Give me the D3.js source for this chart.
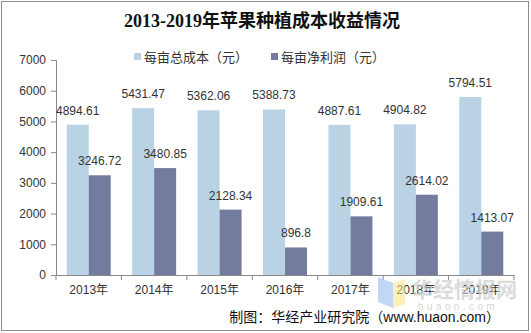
<!DOCTYPE html>
<html>
<head>
<meta charset="utf-8">
<script src="https://cdn.jsdelivr.net/npm/d3@7"></script>
<style>
  body { margin: 0; background: #fff; }
  text { font-family: Arial, "Liberation Sans", "Noto Sans CJK SC", sans-serif; }
</style>
</head>
<body>
<svg width="531" height="333"></svg>
<script>
const years = ['2013年', '2014年', '2015年', '2016年', '2017年', '2018年', '2019年']
const costValues = [4894.61, 5431.47, 5362.06, 5388.73, 4887.61, 4904.82, 5794.51]
const profitValues = [3246.72, 3480.85, 2128.34, 896.8, 1909.61, 2614.02, 1413.07]
const seriesNames = ['每亩总成本（元）', '每亩净利润（元）']
const yTicks = [0, 1000, 2000, 3000, 4000, 5000, 6000, 7000]

const colors = ['#b9d3e5', '#737c9f']

const svg = d3.select('svg')
const width = +svg.attr('width')
const height = +svg.attr('height')

const margin = { top: 60, right: 17, bottom: 58, left: 56 }
const innerWidth = width - margin.left - margin.right
const innerHeight = height - margin.top - margin.bottom

// frame
svg.append('rect')
  .attr('x', 1.5).attr('y', 1.5)
  .attr('width', width - 4).attr('height', height - 4)
  .attr('fill', 'none')
  .attr('stroke', '#8c8c8c')

svg.append('text')
  .attr('x', 262).attr('y', 27)
  .attr('text-anchor', 'middle')
  .style('font-family', '"Liberation Serif", "Noto Sans CJK SC", serif')
  .style('font-size', '18px')
  .style('font-weight', 'bold')
  .attr('fill', '#111')
  .text('2013-2019年苹果种植成本收益情况')

const data = years.map((y, i) => ({ year: y, values: [costValues[i], profitValues[i]] }))

const xBand = d3.scaleBand().domain(years).range([0, innerWidth])
const groupWidth = 44

const xInner = d3.scaleBand()
  .domain([0, 1])
  .range([0, groupWidth])

const yScale = d3.scaleLinear()
  .domain([0, 7000])
  .range([innerHeight, 0])

const g = svg.append('g')
  .attr('transform', `translate(${margin.left}, ${margin.top})`)

const yAxis = g.append('g')
  .call(d3.axisLeft(yScale).tickValues(yTicks).tickFormat(d3.format('d')).tickSize(5).tickPadding(5))
yAxis.selectAll('text').style('font-size', '12px').attr('fill', '#333')
yAxis.selectAll('line, .domain').attr('stroke', '#888')

const xAxis = g.append('g')
  .attr('transform', `translate(0, ${innerHeight})`)
  .call(d3.axisBottom(xBand).tickSize(0).tickPadding(10))
xAxis.selectAll('text').style('font-size', '12px').attr('fill', '#333')
xAxis.select('.domain').attr('stroke', '#888')
// separator ticks between categories
xAxis.selectAll('.sep')
  .data(d3.range(years.length + 1))
  .enter().append('line')
  .attr('x1', i => i * xBand.step())
  .attr('x2', i => i * xBand.step())
  .attr('y1', 0).attr('y2', 5)
  .attr('stroke', '#888')

const groups = g.selectAll('.grp').data(data)
  .enter().append('g')
  .attr('transform', d => `translate(${xBand(d.year) + (xBand.bandwidth() - groupWidth) / 2}, 0)`)

groups.selectAll('rect').data(d => d.values)
  .enter().append('rect')
  .attr('x', (v, i) => xInner(i))
  .attr('y', v => yScale(v))
  .attr('width', xInner.bandwidth())
  .attr('height', v => innerHeight - yScale(v))
  .attr('fill', (v, i) => colors[i])

groups.selectAll('.lbl').data(d => d.values)
  .enter().append('text')
  .attr('x', (v, i) => xInner(i) + xInner.bandwidth() / 2)
  .attr('y', v => yScale(v) - 10)
  .attr('text-anchor', 'middle')
  .style('font-size', '12px')
  .attr('fill', '#333')
  .text(v => v)

// legend
const legend = svg.append('g')
const legendX = [134, 271]
seriesNames.forEach((name, i) => {
  legend.append('rect')
    .attr('x', legendX[i]).attr('y', 53)
    .attr('width', 7).attr('height', 7)
    .attr('fill', colors[i])
  legend.append('text')
    .attr('x', legendX[i] + 10).attr('y', 62)
    .style('font-size', '13px')
    .attr('fill', '#333')
    .text(name)
})

// watermark
const wm = svg.append('g').attr('opacity', 0.55)
wm.append('polygon')
  .attr('points', '378,277 393,283 393,308 378,302')
  .attr('fill', '#8fb8f0')
wm.append('polygon')
  .attr('points', '393,283 405,279 405,304 393,308')
  .attr('fill', '#fbe38a')
svg.append('text')
  .attr('x', 412).attr('y', 297)
  .style('font-size', '21px').style('font-weight', 'bold')
  .attr('fill', '#d0d0d0').attr('opacity', 0.75)
  .text('华经情报网')
svg.append('text')
  .attr('x', 418).attr('y', 310)
  .style('font-size', '10px')
  .attr('letter-spacing', '3.4px')
  .attr('fill', '#d8d8d8')
  .text('huaon.com')

svg.append('text')
  .attr('x', 500).attr('y', 322)
  .attr('text-anchor', 'end')
  .style('font-size', '14px')
  .attr('fill', '#111')
  .text('制图：华经产业研究院（www.huaon.com）')
</script>
</body>
</html>
